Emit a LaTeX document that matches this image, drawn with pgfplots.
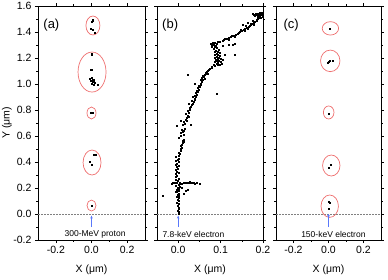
\documentclass[border=0pt]{standalone}
\usepackage{fontspec}
\setmainfont{Liberation Sans}
\usepackage{pgfplots}
\pgfplotsset{compat=1.18}
\usetikzlibrary{arrows.meta}
\definecolor{ellc}{RGB}{238,110,110}
\definecolor{arrc}{RGB}{90,120,250}
\pgfplotsset{
  panel/.style={
    scale only axis, height=234pt,
    ymin=-0.2, ymax=1.6,
    ytick={-0.2,0,0.2,0.4,0.6,0.8,1.0,1.2,1.4,1.6},
    minor y tick num=1,
    tick align=outside, tick pos=both,
    major tick length=3pt, minor tick length=1.8pt,
    every tick/.style={black, line width=0.6pt},
    axis line style={line width=0.6pt},
    tick label style={font=\fontsize{10.5}{12}\selectfont},
    xlabel style={font=\fontsize{10.5}{12}\selectfont, at={(rel axis cs:0.5,0)}, anchor=center, yshift=-30pt},
    ylabel style={font=\fontsize{10.5}{12}\selectfont, at={(rel axis cs:0,0.5)}, anchor=center, yshift=31pt},
    clip=false,
  },
  dots/.style={only marks, mark=square*, mark size=0.5pt, black},
}
\begin{document}
\begin{tikzpicture}
% ---------------- panel (a)
\begin{axis}[panel, at={(38pt,39pt)}, anchor=south west, width=107pt,
  xmin=-0.3, xmax=0.3, xtick={-0.2,0,0.2}, xticklabels={-0.2,0.0,0.2}, minor x tick num=1,
  yticklabels={-0.2,0.0,0.2,0.4,0.6,0.8,1.0,1.2,1.4,1.6},
  xlabel={X (μm)}, ylabel={Y (μm)}]
\draw[gray, dashed, dash pattern=on 1.5pt off 1.5pt, line width=0.5pt] (axis cs:-0.3,0) -- (axis cs:0.3,0);
\addplot[dots] coordinates {
(0.005,1.498) (0.004,1.485) (0.003,1.477) (-0.003,1.423) (0.008,1.415) (0.016,1.398)
(0.003,1.236) (0.002,1.222) (-0.005,1.113) (0.001,1.113)
(-0.008,1.040) (0.000,1.046) (0.006,1.035) (0.012,1.030) (-0.004,1.022) (0.004,1.018) (0.015,1.020) (0.020,1.010) (0.000,1.005) (0.010,0.995) (0.035,0.998)
(0.000,0.779) (0.006,0.781) (-0.004,0.776)
(0.014,0.454) (0.023,0.454) (-0.012,0.402) (0.003,0.377)
(0.001,0.064)
};
\draw[ellc, line width=0.7pt] (axis cs:0.008,1.450) ellipse [x radius=7pt, y radius=9.5pt];
\draw[ellc, line width=0.7pt] (axis cs:0.003,1.092) ellipse [x radius=14pt, y radius=20pt];
\draw[ellc, line width=0.7pt] (axis cs:0.000,0.777) ellipse [x radius=4.5pt, y radius=6pt];
\draw[ellc, line width=0.7pt] (axis cs:0.003,0.396) ellipse [x radius=9pt, y radius=12.5pt];
\draw[ellc, line width=0.7pt] (axis cs:0.000,0.065) ellipse [x radius=4.5pt, y radius=5.5pt];
\draw[arrc, line width=0.5pt, -{Stealth[length=3pt,width=2.5pt]}] (axis cs:0,-0.1) -- (axis cs:0,-0.012);
\node[font=\fontsize{8.5}{10}\selectfont] at (axis cs:0.02,-0.16) {300-MeV proton};
\node[font=\fontsize{13}{15}\selectfont] at (axis cs:-0.225,1.454) {(a)};
\end{axis}
% ---------------- panel (b)
\begin{axis}[panel, at={(157pt,39pt)}, anchor=south west, width=106pt,
  xmin=-0.05, xmax=0.2, xtick={0,0.1,0.2}, xticklabels={0.0,0.1,0.2}, minor x tick num=1,
  yticklabels={}, xlabel={X (μm)}]
\draw[gray, dashed, dash pattern=on 1.5pt off 1.5pt, line width=0.5pt] (axis cs:-0.05,0) -- (axis cs:0.2,0);
\addplot[dots] coordinates {
(0.000,0.005) (0.001,0.015) (-0.001,0.025) (0.002,0.040) (0.000,0.050) (-0.002,0.065) (0.001,0.080) (-0.003,0.090) (0.000,0.100) (-0.002,0.110) (0.002,0.122) (-0.004,0.130) (0.000,0.140) (-0.002,0.150) (0.001,0.158) (-0.003,0.168) (-0.006,0.175) (0.000,0.182) (-0.004,0.190) (0.002,0.196) (-0.002,0.205) (0.004,0.212) (-0.005,0.220) (0.000,0.228) (0.003,0.235)
(-0.036,0.138) (0.018,0.178) (0.022,0.190) (0.012,0.160) (0.008,0.205)
(-0.012,0.242) (-0.008,0.238) (-0.004,0.243) (0.004,0.240) (0.008,0.236) (0.012,0.241) (0.016,0.238) (0.020,0.243) (0.024,0.239) (0.028,0.241) (0.032,0.237) (0.036,0.240) (0.040,0.236) (0.044,0.238) (0.050,0.233) (0.026,0.246) (-0.015,0.236)
(-0.002,0.255) (-0.006,0.265) (0.001,0.275) (-0.007,0.287) (-0.003,0.298) (-0.005,0.310) (0.000,0.318) (-0.004,0.328) (-0.006,0.338) (-0.002,0.350) (-0.004,0.362) (0.000,0.370) (-0.007,0.380) (-0.003,0.390) (0.000,0.400) (-0.005,0.410) (-0.002,0.418) (0.001,0.428) (-0.005,0.440) (0.000,0.452) (0.003,0.462) (0.002,0.475) (0.005,0.488) (0.006,0.500) (0.008,0.512) (0.007,0.522) (0.009,0.535) (0.010,0.545) (0.012,0.556) (0.011,0.565) (0.013,0.575)
(0.001,0.590) (0.007,0.600) (0.012,0.612) (0.005,0.625) (0.010,0.632) (0.014,0.640) (0.008,0.650) (0.016,0.660) (-0.003,0.677) (0.010,0.685) (0.016,0.695) (0.014,0.708) (0.020,0.718) (0.018,0.728) (0.020,0.738) (0.024,0.748) (0.022,0.760) (0.018,0.772) (0.025,0.782) (0.022,0.795) (0.027,0.805)
(0.030,0.690) (0.005,0.720)
(0.028,0.815) (0.030,0.828) (0.032,0.840) (0.034,0.852) (0.036,0.862) (0.033,0.872) (0.038,0.880) (0.040,0.890) (0.042,0.902) (0.039,0.912) (0.044,0.920) (0.042,0.930) (0.046,0.940) (0.044,0.950) (0.048,0.958) (0.046,0.968) (0.050,0.976) (0.049,0.985) (0.052,0.994)
(0.024,0.850) (0.091,0.928) (0.035,0.905)
(0.054,1.005) (0.056,1.020) (0.058,1.035) (0.055,1.048) (0.060,1.055) (0.058,1.062) (0.062,1.068) (0.064,1.078) (0.066,1.088) (0.068,1.095) (0.070,1.104) (0.072,1.112) (0.075,1.120) (0.078,1.128)
(0.040,1.000) (0.062,1.040) (0.070,1.080) (0.052,1.030)
(0.023,1.069)
(0.080,1.135) (0.086,1.140) (0.092,1.145) (0.084,1.152) (0.098,1.150) (0.090,1.158) (0.102,1.160) (0.094,1.165) (0.086,1.168) (0.100,1.172) (0.090,1.178) (0.096,1.182) (0.104,1.185) (0.088,1.188) (0.093,1.193) (0.100,1.198) (0.085,1.200) (0.096,1.205) (0.091,1.212) (0.099,1.216) (0.087,1.222) (0.094,1.228) (0.090,1.236) (0.097,1.240) (0.085,1.245) (0.092,1.252) (0.088,1.260) (0.095,1.265) (0.083,1.270) (0.090,1.276) (0.086,1.284) (0.080,1.290) (0.088,1.296) (0.078,1.300) (0.084,1.306) (0.076,1.312) (0.082,1.318) (0.090,1.310)
(0.110,1.223) (0.134,1.225) (0.106,1.298) (0.118,1.300) (0.128,1.300)
(0.086,1.320) (0.092,1.324) (0.098,1.328) (0.104,1.333) (0.108,1.340) (0.112,1.345) (0.116,1.350) (0.120,1.356) (0.124,1.362) (0.128,1.368) (0.132,1.372) (0.136,1.380) (0.140,1.388) (0.143,1.395) (0.146,1.402) (0.150,1.410) (0.154,1.418) (0.158,1.425) (0.162,1.432) (0.166,1.440) (0.169,1.448) (0.172,1.456) (0.175,1.465) (0.178,1.472) (0.181,1.480) (0.184,1.488) (0.186,1.496) (0.188,1.504) (0.190,1.512)
(0.110,1.350) (0.118,1.343) (0.126,1.372) (0.134,1.366) (0.148,1.418) (0.156,1.410) (0.164,1.424) (0.170,1.465) (0.160,1.445) (0.178,1.458) (0.176,1.485)
(0.134,1.313) (0.152,1.460) (0.165,1.470)
(0.180,1.525) (0.184,1.532) (0.188,1.538) (0.192,1.542) (0.196,1.545) (0.199,1.548) (0.186,1.540) (0.190,1.530) (0.194,1.535) (0.198,1.540) (0.178,1.530) (0.182,1.540) (0.192,1.550) (0.196,1.552) (0.200,1.545) (0.197,1.530) (0.193,1.520) (0.199,1.520) (0.188,1.520) (0.195,1.510) (0.176,1.538) (0.199,1.535)
};
\draw[arrc, line width=0.5pt, -{Stealth[length=3pt,width=2.5pt]}] (axis cs:0,-0.1) -- (axis cs:0,-0.012);
\node[font=\fontsize{8.5}{10}\selectfont] at (axis cs:0.036,-0.16) {7.8-keV electron};
\node[font=\fontsize{13}{15}\selectfont] at (axis cs:-0.019,1.454) {(b)};
\end{axis}
% ---------------- panel (c)
\begin{axis}[panel, at={(276pt,39pt)}, anchor=south west, width=105pt,
  xmin=-0.3, xmax=0.3, xtick={-0.2,0,0.2}, xticklabels={-0.2,0.0,0.2}, minor x tick num=1,
  yticklabels={}, xlabel={X (μm)}]
\draw[gray, dashed, dash pattern=on 1.5pt off 1.5pt, line width=0.5pt] (axis cs:-0.3,0) -- (axis cs:0.3,0);
\addplot[dots] coordinates {
(0.007,1.423)
(-0.005,1.167) (0.000,1.170) (0.005,1.177) (0.024,1.179)
(0.001,0.775)
(0.001,0.359) (0.014,0.377)
(0.001,0.092) (0.004,0.090) (0.001,0.038)
};
\draw[ellc, line width=0.7pt] (axis cs:0.011,1.428) ellipse [x radius=8.2pt, y radius=6.7pt];
\draw[ellc, line width=0.7pt] (axis cs:0.010,1.178) ellipse [x radius=9.7pt, y radius=10.8pt];
\draw[ellc, line width=0.7pt] (axis cs:0.001,0.781) ellipse [x radius=5.3pt, y radius=6.5pt];
\draw[ellc, line width=0.7pt] (axis cs:0.016,0.373) ellipse [x radius=8.7pt, y radius=10.5pt];
\draw[ellc, line width=0.7pt] (axis cs:0.007,0.060) ellipse [x radius=8.7pt, y radius=11.2pt];
\draw[arrc, line width=1.6pt, -{Stealth[length=2.5pt,width=3pt]}] (axis cs:0,-0.1) -- (axis cs:0,0.0);
\node[font=\fontsize{8.5}{10}\selectfont] at (axis cs:0.028,-0.16) {150-keV electron};
\node[font=\fontsize{13}{15}\selectfont] at (axis cs:-0.213,1.454) {(c)};
\end{axis}
\pgfresetboundingbox
\path (0,0) rectangle (388pt,279pt);
\end{tikzpicture}
\end{document}
